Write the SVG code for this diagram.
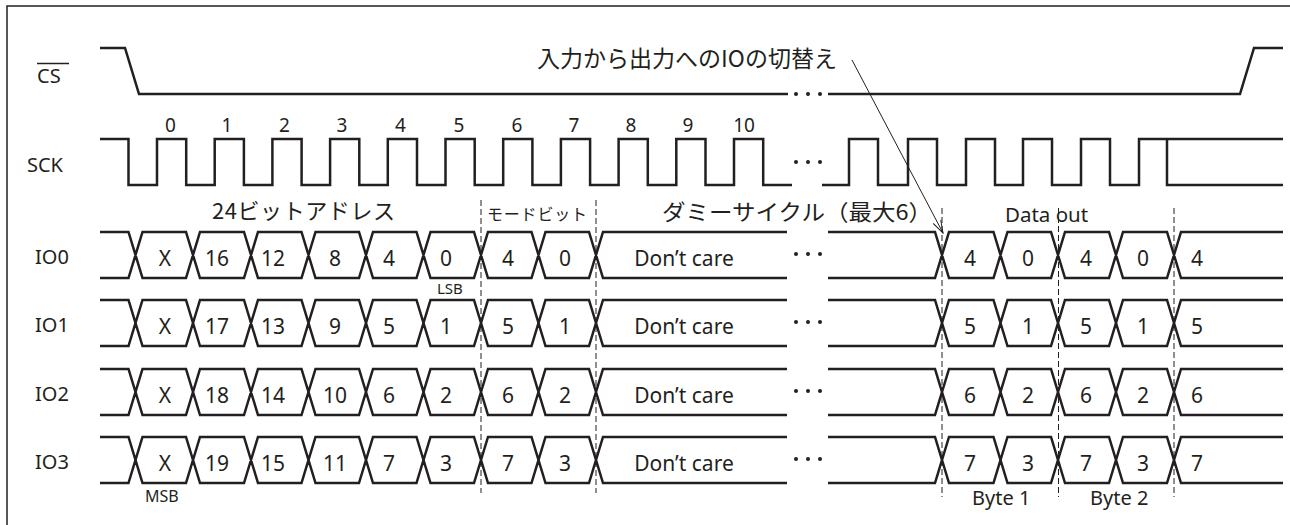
<svg xmlns="http://www.w3.org/2000/svg" xmlns:xlink="http://www.w3.org/1999/xlink" width="1290" height="525" viewBox="0 0 1290 525">
<style>
.w{stroke:#231f20;stroke-width:2.5;fill:none;stroke-linejoin:miter;stroke-linecap:butt}
.b{stroke:#231f20;stroke-width:1.5;fill:none}
.d{stroke:#231f20;stroke-width:1;fill:none;stroke-dasharray:6 3}
.t{font-family:"Noto Sans","Liberation Sans",sans-serif;fill:#231f20}
.lab{font-size:20px}
.v{font-size:21px;text-anchor:middle}
.n{font-size:19px;text-anchor:middle}
.j{font-family:"Noto Sans CJK JP","Noto Sans",sans-serif;fill:#231f20}
.dot{fill:#231f20}
</style>
<defs>
<path id="bus" class="w" d="M100,0 H128.5 L142.5,46 H186 L200,0 H244 L258,46 H301.5 L315.5,0 H359 L373,46 H416.5 L430.5,0 H474 L488,46 H531.5 L545.5,0 H589 L603,46 H787 M100,46 H128.5 L142.5,0 H186 L200,46 H244 L258,0 H301.5 L315.5,46 H359 L373,0 H416.5 L430.5,46 H474 L488,0 H531.5 L545.5,46 H589 L603,0 H787 M828,0 H935 L949,46 H993.5 L1007.5,0 H1051 L1065,46 H1109 L1123,0 H1167 L1181,46 H1283 M828,46 H935 L949,0 H993.5 L1007.5,46 H1051 L1065,0 H1109 L1123,46 H1167 L1181,0 H1283"/>
<g id="dots3"><circle class="dot" cx="796" cy="0" r="2"/><circle class="dot" cx="808" cy="0" r="2"/><circle class="dot" cx="820" cy="0" r="2"/></g>
<marker id="ah" markerUnits="userSpaceOnUse" markerWidth="14" markerHeight="10" refX="13" refY="5" orient="auto"><path d="M0,0.8 L13,5 L0,9.2" fill="none" stroke="#231f20" stroke-width="1"/></marker>
</defs>

<path class="b" d="M7,525 V6 H1290"/>

<g id="cs">
<text class="t lab" x="37" y="83">CS</text>
<path class="b" d="M37,63.5 H69"/>
<path class="w" d="M100,48 H125 L139,94 H788 M828,94 H1240 L1254,48 H1283"/>
<use xlink:href="#dots3" y="94"/>
</g>

<g id="sck">
<text class="t lab" x="27" y="172">SCK</text>
<path class="w" d="M100,139 H128.5 V185 H157 V139 H186.2 V185 H214.7 V139 H243.9 V185 H272.4 V139 H301.6 V185 H330.1 V139 H359.3 V185 H387.8 V139 H417 V185 H445.5 V139 H474.7 V185 H503.2 V139 H532.4 V185 H560.9 V139 H590.1 V185 H618.6 V139 H647.8 V185 H676.3 V139 H705.5 V185 H734 V139 H763.2 V185 H792 M822,185 H849 V139 H878 V185 H908 V139 H937 V185 H966 V139 H995 V185 H1023 V139 H1052 V185 H1081 V139 H1110 V185 H1139 V139 H1283 M1167,139 V185 H1283"/>
<use xlink:href="#dots3" y="162"/>
<g class="t n">
<text x="170.5" y="132">0</text><text x="227" y="132">1</text><text x="284.5" y="132">2</text><text x="342" y="132">3</text><text x="400.5" y="132">4</text><text x="459" y="132">5</text><text x="517" y="132">6</text><text x="574" y="132">7</text><text x="631" y="132">8</text><text x="688" y="132">9</text><text x="744" y="132">10</text>
</g>
</g>

<g id="io0" transform="translate(0,232)">
<text class="t lab" x="35" y="32">IO0</text>
<use xlink:href="#bus"/>
<use xlink:href="#dots3" y="22"/>
<g class="t v"><text x="165" y="34">X</text><text x="217" y="34">16</text><text x="273" y="34">12</text><text x="335" y="34">8</text><text x="389" y="34">4</text><text x="446" y="34">0</text><text x="508" y="34">4</text><text x="565" y="34">0</text><text x="684" y="34">Don’t care</text><text x="970" y="34">4</text><text x="1028" y="34">0</text><text x="1086" y="34">4</text><text x="1143" y="34">0</text><text x="1197" y="34">4</text></g>
</g>

<g id="io1" transform="translate(0,300)">
<text class="t lab" x="35" y="32">IO1</text>
<use xlink:href="#bus"/>
<use xlink:href="#dots3" y="22"/>
<g class="t v"><text x="165" y="34">X</text><text x="217" y="34">17</text><text x="273" y="34">13</text><text x="335" y="34">9</text><text x="389" y="34">5</text><text x="446" y="34">1</text><text x="508" y="34">5</text><text x="565" y="34">1</text><text x="684" y="34">Don’t care</text><text x="970" y="34">5</text><text x="1028" y="34">1</text><text x="1086" y="34">5</text><text x="1143" y="34">1</text><text x="1197" y="34">5</text></g>
</g>

<g id="io2" transform="translate(0,369)">
<text class="t lab" x="35" y="32">IO2</text>
<use xlink:href="#bus"/>
<use xlink:href="#dots3" y="22"/>
<g class="t v"><text x="165" y="34">X</text><text x="217" y="34">18</text><text x="273" y="34">14</text><text x="335" y="34">10</text><text x="389" y="34">6</text><text x="446" y="34">2</text><text x="508" y="34">6</text><text x="565" y="34">2</text><text x="684" y="34">Don’t care</text><text x="970" y="34">6</text><text x="1028" y="34">2</text><text x="1086" y="34">6</text><text x="1143" y="34">2</text><text x="1197" y="34">6</text></g>
</g>

<g id="io3" transform="translate(0,437)">
<text class="t lab" x="35" y="32">IO3</text>
<use xlink:href="#bus"/>
<use xlink:href="#dots3" y="22"/>
<g class="t v"><text x="165" y="34">X</text><text x="217" y="34">19</text><text x="273" y="34">15</text><text x="335" y="34">11</text><text x="389" y="34">7</text><text x="446" y="34">3</text><text x="508" y="34">7</text><text x="565" y="34">3</text><text x="684" y="34">Don’t care</text><text x="970" y="34">7</text><text x="1028" y="34">3</text><text x="1086" y="34">7</text><text x="1143" y="34">3</text><text x="1197" y="34">7</text></g>
</g>

<g id="markers">
<path class="d" d="M481,200 V493 M596,200 V493 M942,208 V497 M1058.5,208 V497 M1174,208 V497"/>
</g>

<g id="labels">
<text class="j" x="537" y="67" font-size="23" textLength="300" lengthAdjust="spacingAndGlyphs">入力から出力へのIOの切替え</text>
<text class="j" x="212" y="219" font-size="22" textLength="183" lengthAdjust="spacing">24ビットアドレス</text>
<text class="j" x="487" y="220" font-size="16" textLength="100" lengthAdjust="spacing">モードビット</text>
<text class="j" x="662" y="220" font-size="22" textLength="270" lengthAdjust="spacingAndGlyphs">ダミーサイクル（最大6）</text>
<text class="t" x="1005" y="222" font-size="20.5">Data out</text>
<text class="t" x="972" y="505" font-size="20">Byte 1</text>
<text class="t" x="1090" y="505" font-size="20">Byte 2</text>
<text class="t" x="437" y="294" font-size="15">LSB</text>
<text class="t" x="145" y="502" font-size="16">MSB</text>
</g>

<g id="connectors">
<path d="M852,60 L943,233" stroke="#231f20" stroke-width="1" fill="none" marker-end="url(#ah)"/>
</g>
</svg>
